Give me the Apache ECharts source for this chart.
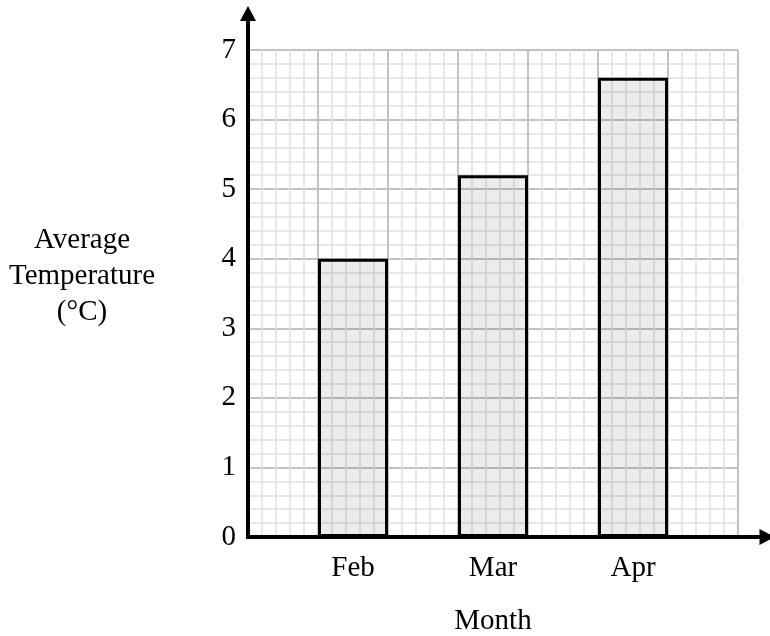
<!DOCTYPE html>
<html>
<head>
<meta charset="utf-8">
<script src="https://cdn.jsdelivr.net/npm/echarts@6/dist/echarts.min.js"></script>
<style>
html,body{margin:0;padding:0;background:#fff;}
#chart{width:770px;height:636px;}
</style>
</head>
<body>
<div id="chart"></div>
<script>
const months = ['Feb', 'Mar', 'Apr'];
const temps = [4.0, 5.2, 6.6];
const yAxisTitle = 'Average\nTemperature\n(°C)';
const xAxisTitle = 'Month';

// Each month sits in every second column of a 7-column grid
const slotNames = [];
const slotValues = [];
months.forEach(function (m, i) {
  slotNames.push('_' + i);
  slotValues.push(null);
  slotNames.push(m);
  slotValues.push(temps[i]);
});
slotNames.push('_' + months.length);
slotValues.push(null);

const FONT = '"Liberation Serif", "Times New Roman", serif';
const FS = 29;
const majorLine = { color: '#c2c2c2', width: 2 };
const minorLine = { color: '#e0e0e0', width: 1.5 };

const chart = echarts.init(document.getElementById('chart'));
chart.setOption({
  backgroundColor: '#ffffff',
  animation: false,
  grid: [
    { left: 248, right: 32, top: 50, bottom: 99, outerBoundsMode: 'none', containLabel: false },
    { left: 248, right: 3, top: 13.5, bottom: 99, outerBoundsMode: 'none', containLabel: false }
  ],
  xAxis: [
    {
      type: 'value', gridIndex: 0, min: 0, max: 7, interval: 1,
      axisLine: { show: false }, axisTick: { show: false }, axisLabel: { show: false },
      splitLine: { show: true, lineStyle: majorLine },
      minorTick: { show: false, splitNumber: 5 },
      minorSplitLine: { show: true, lineStyle: minorLine }
    },
    {
      type: 'category', gridIndex: 0, position: 'bottom', data: slotNames,
      axisLine: { show: false }, axisTick: { show: false }, splitLine: { show: false },
      axisLabel: {
        interval: 0, margin: 17, fontSize: FS, fontFamily: FONT, color: '#000',
        formatter: function (v) { return v.charAt(0) === '_' ? '' : v; }
      },
      name: xAxisTitle, nameLocation: 'middle', nameGap: 70,
      nameTextStyle: { fontSize: FS, fontFamily: FONT, color: '#000' }
    },
    {
      type: 'value', gridIndex: 1, min: 0, max: 1, z: 10,
      axisLine: {
        show: true, symbol: ['none', 'triangle'], symbolSize: [16, 15],
        lineStyle: { color: '#000', width: 4, cap: 'square' }
      },
      axisTick: { show: false }, axisLabel: { show: false }, splitLine: { show: false }
    }
  ],
  yAxis: [
    {
      type: 'value', gridIndex: 0, min: 0, max: 7, interval: 1,
      axisLine: { show: false }, axisTick: { show: false },
      axisLabel: { margin: 12, fontSize: FS, fontFamily: FONT, color: '#000' },
      splitLine: { show: true, lineStyle: majorLine },
      minorTick: { show: false, splitNumber: 5 },
      minorSplitLine: { show: true, lineStyle: minorLine }
    },
    {
      type: 'value', gridIndex: 1, min: 0, max: 1, z: 10,
      axisLine: {
        show: true, symbol: ['none', 'triangle'], symbolSize: [16, 15],
        lineStyle: { color: '#000', width: 4, cap: 'square' }
      },
      axisTick: { show: false }, axisLabel: { show: false }, splitLine: { show: false }
    }
  ],
  series: [
    {
      type: 'bar', xAxisIndex: 1, yAxisIndex: 0,
      data: slotValues, barWidth: '100%',
      itemStyle: { color: 'rgba(0,0,0,0.075)', borderColor: '#000', borderWidth: 3 }
    }
  ],
  graphic: [
    {
      type: 'text', x: 82, y: 276,
      style: {
        text: yAxisTitle, align: 'center', verticalAlign: 'middle',
        lineHeight: 36, fontSize: FS, fontFamily: FONT, fill: '#000'
      }
    }
  ]
});
</script>
</body>
</html>
